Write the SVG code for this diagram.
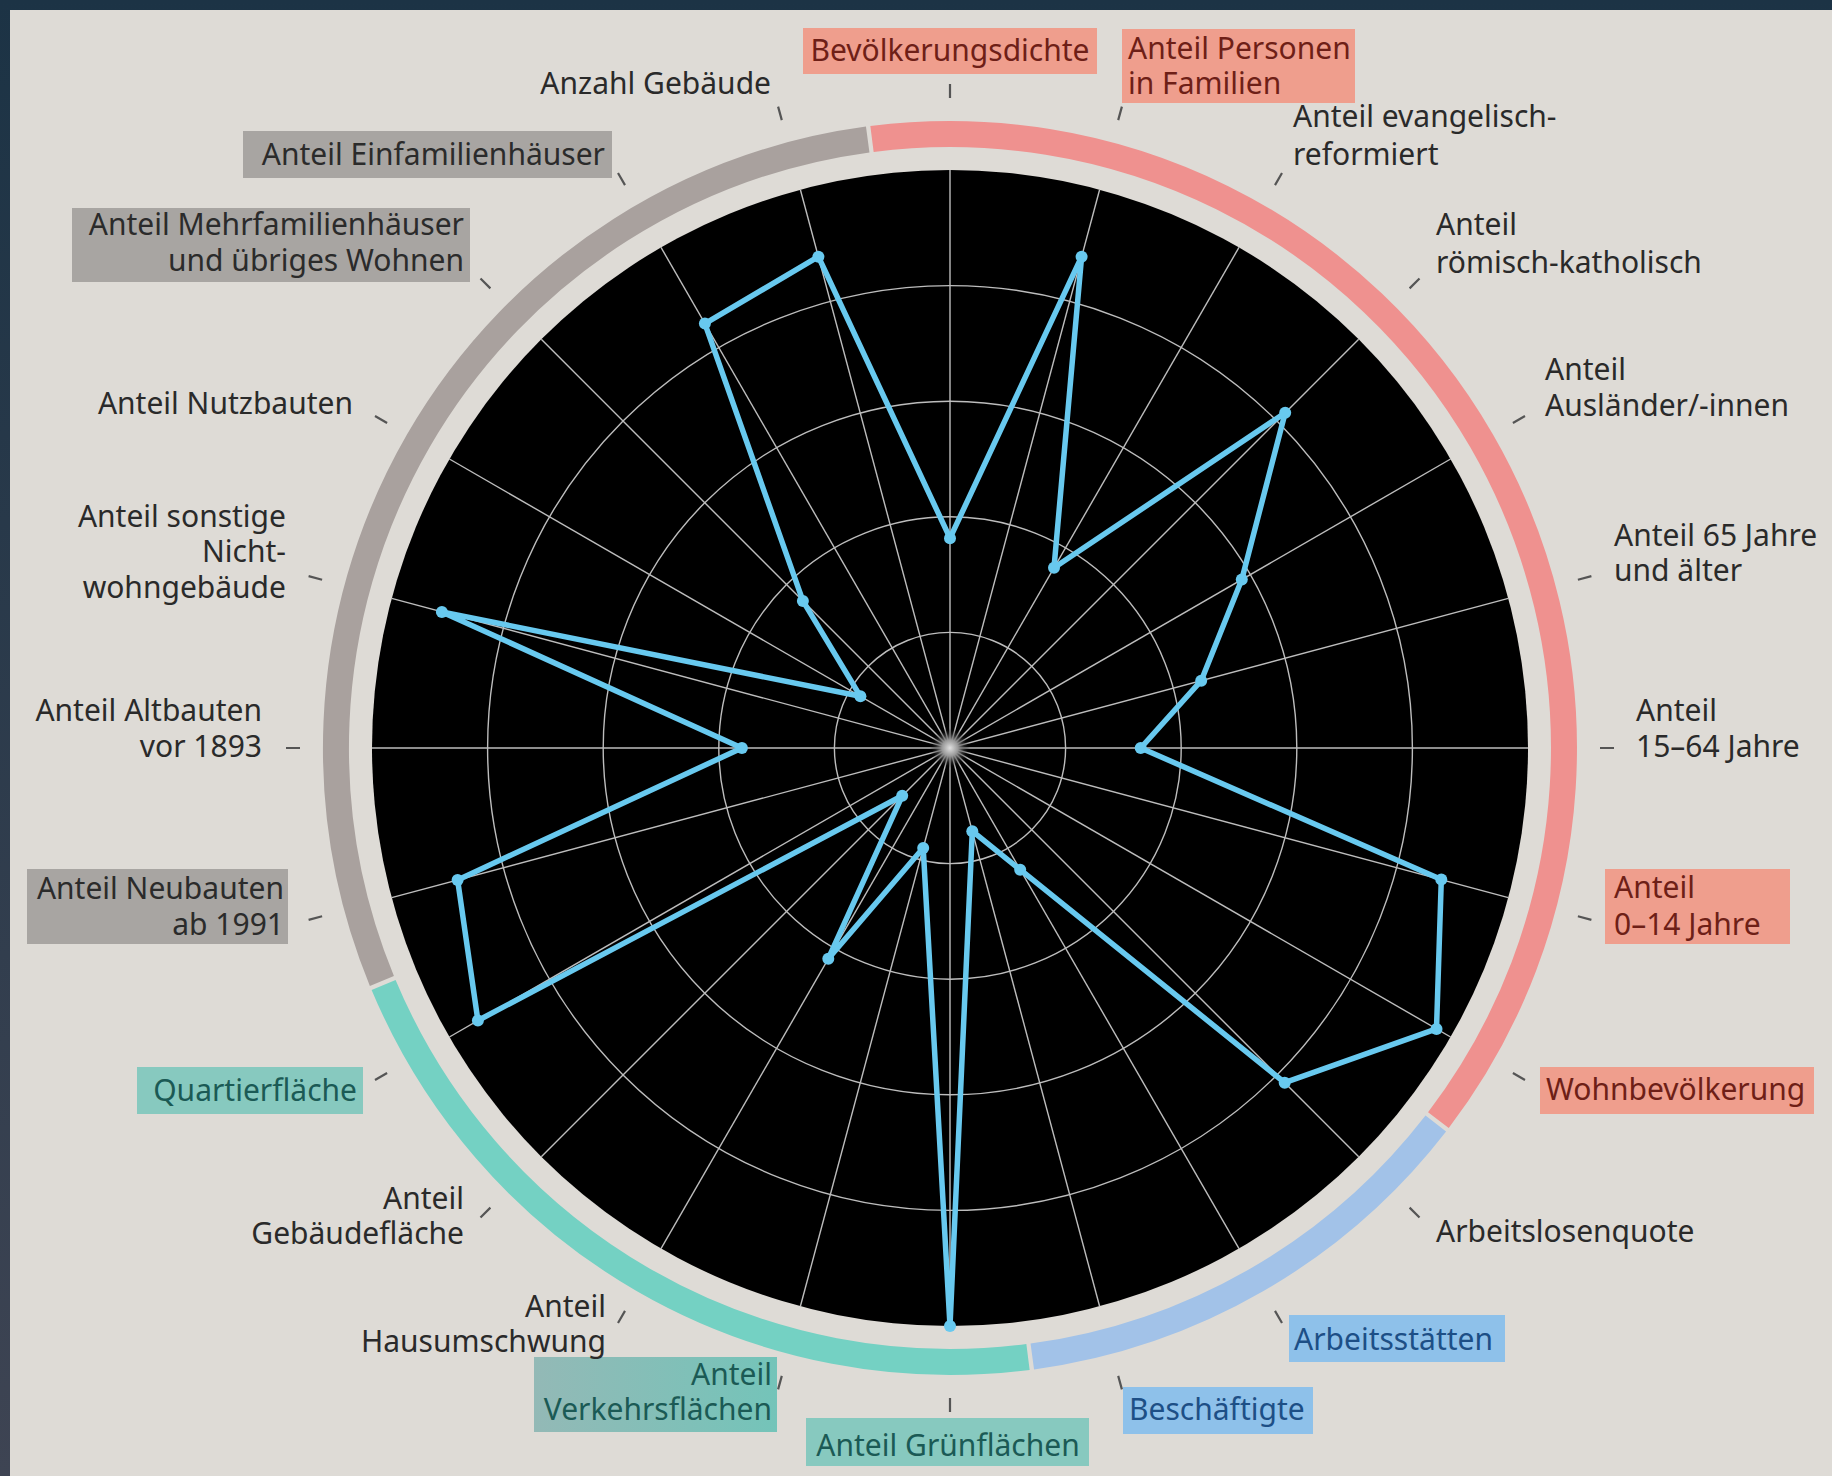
<svg xmlns="http://www.w3.org/2000/svg" width="1832" height="1476" viewBox="0 0 1832 1476">
<defs>
<linearGradient id="frame" x1="0" y1="0" x2="0" y2="1">
<stop offset="0" stop-color="#1c3345"/>
<stop offset="1" stop-color="#3e4453"/>
</linearGradient>
<radialGradient id="glow" cx="950" cy="748" r="20" gradientUnits="userSpaceOnUse">
<stop offset="0" stop-color="#e0e0e0"/>
<stop offset="0.4" stop-color="#9a9a9a"/>
<stop offset="1" stop-color="#000000" stop-opacity="0"/>
</radialGradient>
<linearGradient id="tealgrad" x1="0" y1="0" x2="1" y2="0">
<stop offset="0" stop-color="#93b9b6"/>
<stop offset="1" stop-color="#74c4b9"/>
</linearGradient>
</defs>
<style>
text{font-family:"Noto Sans","Open Sans","Liberation Sans",sans-serif;font-size:30px;fill:#2a2a2a}
.end{text-anchor:end}
.mid{text-anchor:middle}
.tick{stroke:#555;stroke-width:2.2;fill:none}
.grid{stroke:#bdbdbd;stroke-width:1.4;fill:none}
.ring{fill:none;stroke-width:26}
.bpink{fill:#ef9e8d}
.bgray{fill:#a8a5a2}
.bteal{fill:#87c9bf}
.bblue{fill:#8ec1ea}
text.tpink{fill:#6e1f17}
text.tgray{fill:#2b2b2b}
text.tteal{fill:#1b5a55}
text.tblue{fill:#1d4f86}
.data{fill:none;stroke:#68c9ef;stroke-width:5.5;stroke-linejoin:round}
.pt{fill:#68c9ef}
</style>
<rect x="0" y="0" width="1832" height="1476" fill="url(#frame)"/>
<rect x="10" y="10" width="1822" height="1466" fill="#dedbd6"/>

<g id="chart">
<circle cx="950" cy="748" r="578" fill="#000"/>
<g class="grid">
<circle cx="950" cy="748" r="115.6"/>
<circle cx="950" cy="748" r="231.2"/>
<circle cx="950" cy="748" r="346.8"/>
<circle cx="950" cy="748" r="462.4"/>
<line x1="950" y1="170" x2="950" y2="1326"/>
<line x1="1099.6" y1="189.7" x2="800.4" y2="1306.3"/>
<line x1="1239" y1="247.4" x2="661" y2="1248.6"/>
<line x1="1358.7" y1="339.3" x2="541.3" y2="1156.7"/>
<line x1="1450.6" y1="459" x2="449.4" y2="1037"/>
<line x1="1508.3" y1="598.4" x2="391.7" y2="897.6"/>
<line x1="1528" y1="748" x2="372" y2="748"/>
<line x1="1508.3" y1="897.6" x2="391.7" y2="598.4"/>
<line x1="1450.6" y1="1037" x2="449.4" y2="459"/>
<line x1="1358.7" y1="1156.7" x2="541.3" y2="339.3"/>
<line x1="1239" y1="1248.6" x2="661" y2="247.4"/>
<line x1="1099.6" y1="1306.3" x2="800.4" y2="189.7"/>
</g>
<circle cx="950" cy="748" r="20" fill="url(#glow)"/>
</g>

<g id="rings">
<path class="ring" stroke="#ef918f" d="M872,139 A614,614 0 0 1 1438.4,1120.1"/>
<path class="ring" stroke="#a2c2e8" d="M1435.8,1123.5 A614,614 0 0 1 1032.3,1356.5"/>
<path class="ring" stroke="#74d1c3" d="M1028,1357 A614,614 0 0 1 383.6,984.9"/>
<path class="ring" stroke="#a9a19e" d="M381.9,981 A614,614 0 0 1 867.7,139.5"/>
</g>

<g id="connectors">
<path class="tick" d="M950,98L950,84M1118.2,120.1L1121.9,106.6M1275,185.1L1282,173M1409.6,288.4L1419.5,278.5M1512.9,423L1525,416M1577.9,579.8L1591.4,576.1M1600,748L1614,748M1577.9,916.2L1591.4,919.9M1512.9,1073L1525,1080M1409.6,1207.6L1419.5,1217.5M1275,1310.9L1282,1323M1118.2,1375.9L1121.9,1389.4M950,1398L950,1412M781.8,1375.9L778.1,1389.4M625,1310.9L618,1323M490.4,1207.6L480.5,1217.5M387.1,1073L375,1080M322.1,916.2L308.6,919.9M300,748L286,748M322.1,579.8L308.6,576.1M387.1,423L375,416M490.4,288.4L480.5,278.5M625,185.1L618,173M781.8,120.1L778.1,106.6"/>
</g>

<g id="data">
<polygon class="data" points="950,538.2 1081.6,256.7 1054,567.8 1285.2,412.8 1241.8,579.5 1201.2,680.7 1140.7,748 1441.3,879.6 1436.5,1028.9 1284.7,1082.7 1020.2,869.7 972.3,831.2 950,1326 923.2,848 828.3,958.7 902.2,795.8 477.9,1020.5 457.6,879.9 741.9,748 441.9,611.9 860.4,696.3 802.9,600.9 704.9,323.6 818.4,256.7"/>
<g class="pt">
<circle cx="950" cy="538.2" r="6"/><circle cx="1081.6" cy="256.7" r="6"/><circle cx="1054" cy="567.8" r="6"/><circle cx="1285.2" cy="412.8" r="6"/><circle cx="1241.8" cy="579.5" r="6"/><circle cx="1201.2" cy="680.7" r="6"/><circle cx="1140.7" cy="748" r="6"/><circle cx="1441.3" cy="879.6" r="6"/><circle cx="1436.5" cy="1028.9" r="6"/><circle cx="1284.7" cy="1082.7" r="6"/><circle cx="1020.2" cy="869.7" r="6"/><circle cx="972.3" cy="831.2" r="6"/><circle cx="950" cy="1326" r="6"/><circle cx="923.2" cy="848" r="6"/><circle cx="828.3" cy="958.7" r="6"/><circle cx="902.2" cy="795.8" r="6"/><circle cx="477.9" cy="1020.5" r="6"/><circle cx="457.6" cy="879.9" r="6"/><circle cx="741.9" cy="748" r="6"/><circle cx="441.9" cy="611.9" r="6"/><circle cx="860.4" cy="696.3" r="6"/><circle cx="802.9" cy="600.9" r="6"/><circle cx="704.9" cy="323.6" r="6"/><circle cx="818.4" cy="256.7" r="6"/>
</g>
</g>

<g id="label-bevoelkerungsdichte"><rect class="bpink" x="803" y="28" width="294" height="46"/><text class="mid tpink" x="950" y="61">Bevölkerungsdichte</text></g>
<g id="label-personen-familien"><rect class="bpink" x="1122" y="29" width="233" height="74"/><text class="tpink" x="1128" y="59">Anteil Personen</text><text class="tpink" x="1128" y="94">in Familien</text></g>
<g id="label-evangelisch"><text x="1293" y="127">Anteil evangelisch-</text><text x="1293" y="165">reformiert</text></g>
<g id="label-katholisch"><text x="1436" y="235">Anteil</text><text x="1436" y="273">römisch-katholisch</text></g>
<g id="label-auslaender"><text x="1545" y="380">Anteil</text><text x="1545" y="416">Ausländer/-innen</text></g>
<g id="label-65"><text x="1614" y="546">Anteil 65 Jahre</text><text x="1614" y="581">und älter</text></g>
<g id="label-15-64"><text x="1636" y="721">Anteil</text><text x="1636" y="757">15–64 Jahre</text></g>
<g id="label-0-14"><rect class="bpink" x="1605" y="869" width="185" height="75"/><text class="tpink" x="1614" y="898">Anteil</text><text class="tpink" x="1614" y="935">0–14 Jahre</text></g>
<g id="label-wohnbevoelkerung"><rect class="bpink" x="1540" y="1067" width="274" height="47"/><text class="tpink" x="1546" y="1100">Wohnbevölkerung</text></g>
<g id="label-arbeitslosenquote"><text x="1436" y="1242">Arbeitslosenquote</text></g>
<g id="label-arbeitsstaetten"><rect class="bblue" x="1289" y="1315" width="216" height="47"/><text class="tblue" x="1294" y="1350">Arbeitsstätten</text></g>
<g id="label-beschaeftigte"><rect class="bblue" x="1123" y="1387" width="190" height="47"/><text class="tblue" x="1129" y="1420">Beschäftigte</text></g>
<g id="label-gruenflaechen"><rect class="bteal" x="806" y="1418" width="283" height="48"/><text class="mid tteal" x="948" y="1456">Anteil Grünflächen</text></g>
<g id="label-verkehrsflaechen"><rect fill="url(#tealgrad)" x="534" y="1357" width="243" height="75"/><text class="end tteal" x="772" y="1385">Anteil</text><text class="end tteal" x="772" y="1420">Verkehrsflächen</text></g>
<g id="label-hausumschwung"><text class="end" x="606" y="1317">Anteil</text><text class="end" x="606" y="1352">Hausumschwung</text></g>
<g id="label-gebaeudeflaeche"><text class="end" x="464" y="1209">Anteil</text><text class="end" x="464" y="1244">Gebäudefläche</text></g>
<g id="label-quartierflaeche"><rect class="bteal" x="137" y="1067" width="226" height="47"/><text class="end tteal" x="357" y="1101">Quartierfläche</text></g>
<g id="label-neubauten"><rect class="bgray" x="27" y="869" width="261" height="75"/><text class="end tgray" x="284" y="899">Anteil Neubauten</text><text class="end tgray" x="284" y="935">ab 1991</text></g>
<g id="label-altbauten"><text class="end" x="262" y="721">Anteil Altbauten</text><text class="end" x="262" y="757">vor 1893</text></g>
<g id="label-sonstige"><text class="end" x="286" y="527">Anteil sonstige</text><text class="end" x="286" y="562">Nicht-</text><text class="end" x="286" y="598">wohngebäude</text></g>
<g id="label-nutzbauten"><text class="end" x="353" y="414">Anteil Nutzbauten</text></g>
<g id="label-mehrfamilien"><rect class="bgray" x="72" y="208" width="398" height="74"/><text class="end tgray" x="464" y="235">Anteil Mehrfamilienhäuser</text><text class="end tgray" x="464" y="271">und übriges Wohnen</text></g>
<g id="label-einfamilien"><rect class="bgray" x="243" y="131" width="369" height="47"/><text class="end tgray" x="605" y="165">Anteil Einfamilienhäuser</text></g>
<g id="label-anzahl-gebaeude"><text class="end" x="771" y="94">Anzahl Gebäude</text></g>
</svg>
